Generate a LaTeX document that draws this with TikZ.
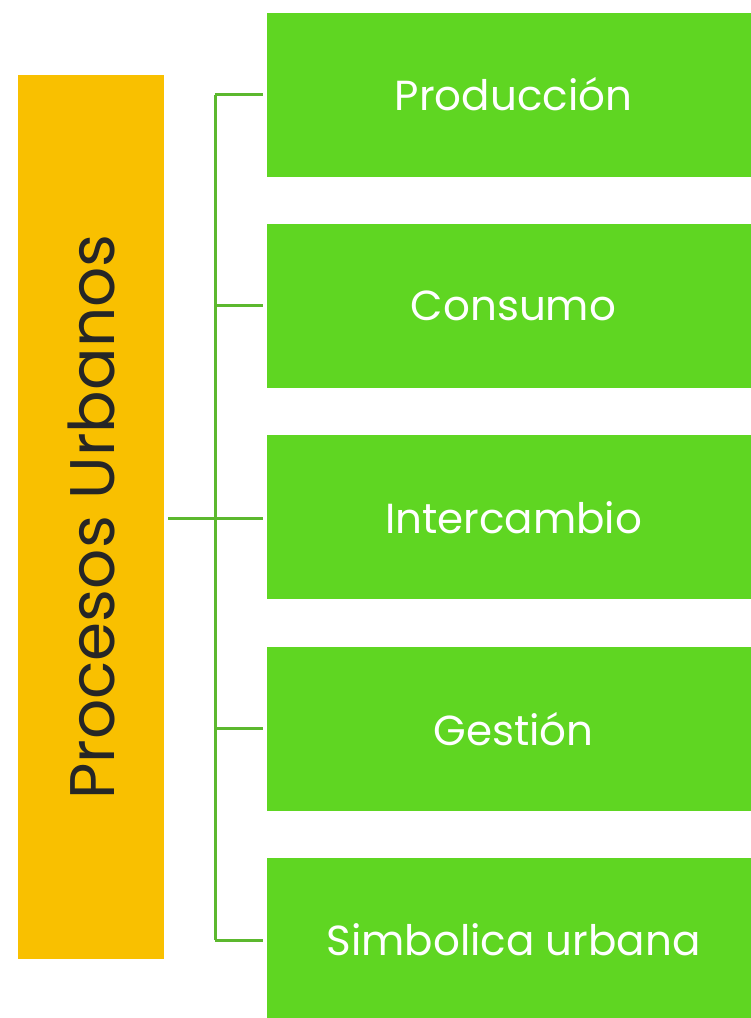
\documentclass[tikz,border=0pt]{standalone}
\usepackage{fontspec}
\setmainfont{Poppins}
\usepackage{xcolor}
\definecolor{procorange}{HTML}{F9C000}
\definecolor{procgreen}{HTML}{5FD622}
\definecolor{linkgreen}{HTML}{5CB82E}
\begin{document}
\begin{tikzpicture}[x=1pt, y=-1pt,
    mainbox/.style={fill=procorange, minimum width=146pt, minimum height=884pt, inner sep=0pt},
    itembox/.style={fill=procgreen, minimum width=493pt, minimum height=164pt, inner sep=0pt,
      text=white, font=\fontsize{42}{48}\selectfont},
    link/.style={draw=linkgreen, line width=3pt}]
      \useasboundingbox (0,0) rectangle (751,1018);
      \node[mainbox] (P) at (91,517) {};
      \node[rotate=90, text=black!85, font=\fontsize{63}{70}\selectfont] (PT) at (91,517) {Procesos Urbanos};

      \foreach \name/\txt [count=\i] in {prod/Producción, cons/Consumo, inter/Intercambio, gest/Gestión, simb/Simbolica urbana} {
        \node[itembox] (\name) at (513.5, 94.5 + 211.4*\i - 211.4) {\txt};
      }

      \coordinate (hub) at (215,518);
      \draw[link, shorten <=4pt, shorten >=4pt] (P.east |- hub) -- (inter.west |- hub);
      \draw[link] (hub |- prod) -- (hub |- simb);
      \foreach \name in {prod, cons, gest, simb}
        \draw[link, shorten >=4pt] (hub |- \name) -- (\name.west);
    \end{tikzpicture}
\end{document}
